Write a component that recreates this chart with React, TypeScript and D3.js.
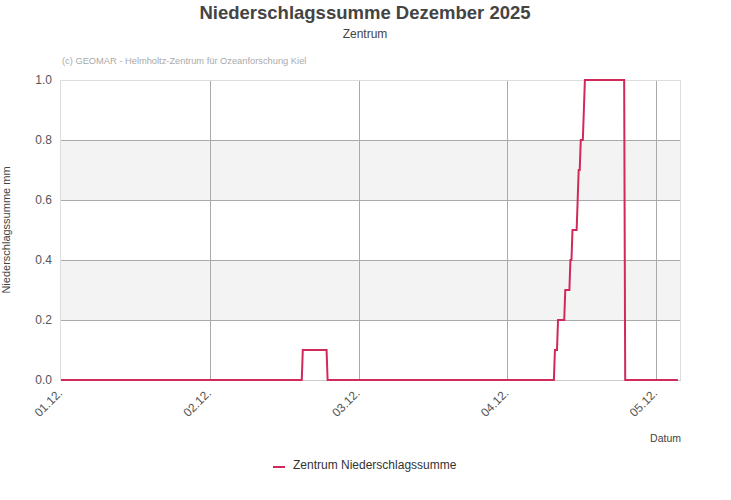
import React from 'react';
import * as d3 from 'd3';

// Zeitreihe: Stützpunkte (Zeit, Niederschlagssumme in mm)
const times: string[] = [
    '2025-12-01T00:00', '2025-12-02T14:50', '2025-12-02T15:00', '2025-12-02T18:50', '2025-12-02T19:00',
    '2025-12-04T07:30', '2025-12-04T07:40', '2025-12-04T08:00', '2025-12-04T08:10', '2025-12-04T09:10',
    '2025-12-04T09:20', '2025-12-04T10:00', '2025-12-04T10:10', '2025-12-04T10:20', '2025-12-04T10:30',
    '2025-12-04T11:10', '2025-12-04T11:20', '2025-12-04T11:30', '2025-12-04T11:40', '2025-12-04T11:50',
    '2025-12-04T12:10', '2025-12-04T12:30', '2025-12-04T18:50', '2025-12-04T19:00', '2025-12-05T03:30',
];
const values: number[] = [
    0, 0, 0.1, 0.1, 0,
    0, 0.1, 0.1, 0.2, 0.2,
    0.3, 0.3, 0.4, 0.4, 0.5,
    0.5, 0.6, 0.7, 0.7, 0.8,
    0.8, 1.0, 1.0, 0, 0,
];
const xTicks: string[] = ['2025-12-01T00:00', '2025-12-02T00:00', '2025-12-03T00:00', '2025-12-04T00:00', '2025-12-05T00:00'];
const yTicks: number[] = [0, 0.2, 0.4, 0.6, 0.8, 1.0];
const xDomain: string[] = ['2025-12-01T00:00', '2025-12-05T04:00'];

const width = 731;
const height = 500;
const margin = { top: 80, right: 50, bottom: 120, left: 61 };
const lineColor = '#cf2a5a';
const font = '"Liberation Sans", Arial, sans-serif';

const App: React.FC = () => {
    const parse = (s: string) => new Date(s);
    const data = times.map((t, i) => ({ date: parse(t), value: values[i] }));

    const xScale = d3.scaleTime()
        .domain(xDomain.map(parse) as [Date, Date])
        .range([margin.left, width - margin.right]);
    const yScale = d3.scaleLinear()
        .domain([0, 1])
        .range([height - margin.bottom, margin.top]);

    const line = d3.line<{ date: Date; value: number }>()
        .x(d => xScale(d.date))
        .y(d => yScale(d.value));

    const x0 = margin.left;
    const x1 = width - margin.right;
    const y0 = height - margin.bottom;
    const y1 = margin.top;
    const fmt = d3.timeFormat('%d.%m.');

    return (
        <svg width={width} height={height} style={{ display: 'block', position: 'absolute', left: 0, top: 0 }} fontFamily={font}>
            <rect x={0} y={0} width={width} height={height} fill="#fff" />
            <text x={365} y={19} textAnchor="middle" fontSize={18.5} fontWeight="bold" fill="#444">
                Niederschlagssumme Dezember 2025
            </text>
            <text x={365} y={38} textAnchor="middle" fontSize={12} fill="#444">Zentrum</text>
            <text x={62} y={64} fontSize={9.3} fill="#aaa">(c) GEOMAR - Helmholtz-Zentrum für Ozeanforschung Kiel</text>

            {/* alternating bands */}
            {yTicks.slice(0, -1).map((t, i) => i % 2 === 1 ? (
                <rect key={'b' + i} x={x0} y={yScale(yTicks[i + 1])} width={x1 - x0}
                    height={yScale(t) - yScale(yTicks[i + 1])} fill="#f3f3f3" />
            ) : null)}

            {/* horizontal grid */}
            {yTicks.slice(1, -1).map(t => (
                <line key={'h' + t} x1={x0} x2={x1} y1={yScale(t) + 0.5} y2={yScale(t) + 0.5} stroke="#aaa" strokeWidth={1} />
            ))}
            {/* vertical grid */}
            {xTicks.slice(1).map(t => (
                <line key={'v' + t} x1={Math.round(xScale(parse(t))) + 0.5} x2={Math.round(xScale(parse(t))) + 0.5}
                    y1={y1} y2={y0} stroke="#aaa" strokeWidth={1} />
            ))}
            {/* plot border */}
            <rect x={x0 - 0.5} y={y1 + 0.5} width={x1 - x0} height={y0 - y1} fill="none" stroke="#ddd" strokeWidth={1} />
            <line x1={x0} x2={x1} y1={y0 + 0.5} y2={y0 + 0.5} stroke="#ccc" strokeWidth={1} />

            {/* y tick labels */}
            {yTicks.map(t => (
                <text key={'y' + t} x={52} y={yScale(t) + 4} textAnchor="end" fontSize={12} fill="#555">
                    {t.toFixed(1)}
                </text>
            ))}
            <text transform={`translate(10,${(y0 + y1) / 2}) rotate(-90)`} textAnchor="middle" fontSize={11} fill="#444">
                Niederschlagssumme mm
            </text>

            {/* x tick labels */}
            {xTicks.map(t => (
                <text key={'x' + t} transform={`translate(${xScale(parse(t)) + 2},${y0 + 14}) rotate(-45)`}
                    textAnchor="end" fontSize={12} fill="#555">
                    {fmt(parse(t))}
                </text>
            ))}
            <text x={x1} y={442} textAnchor="end" fontSize={10.5} fill="#444">Datum</text>

            {/* series */}
            <path d={line(data) ?? ''} fill="none" stroke={lineColor} strokeWidth={2} strokeLinejoin="miter" />

            {/* legend */}
            <line x1={273} x2={285} y1={467} y2={467} stroke={lineColor} strokeWidth={2} />
            <text x={293} y={469} fontSize={12} fill="#333">Zentrum Niederschlagssumme</text>
        </svg>
    );
};

export default App;
